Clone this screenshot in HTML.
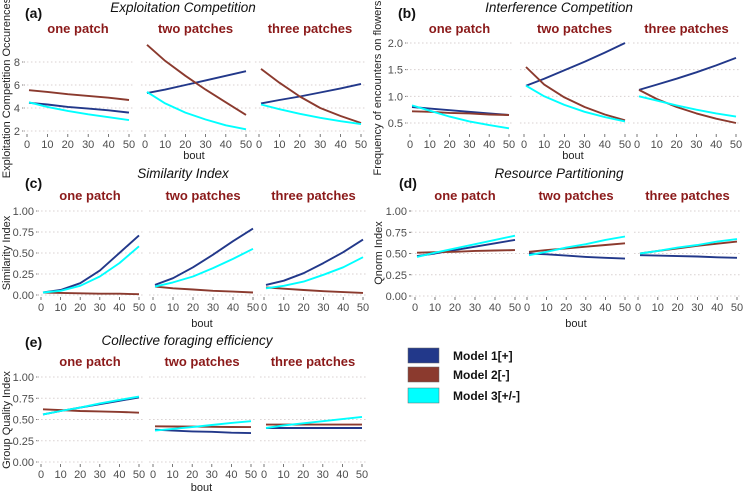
<!DOCTYPE html>
<html><head><meta charset="utf-8">
<style>
html,body{margin:0;padding:0;background:#fff;}
svg{display:block;font-family:"Liberation Sans",sans-serif;}
</style></head>
<body>
<svg id="chart" width="743" height="493" viewBox="0 0 743 493" xmlns="http://www.w3.org/2000/svg"></svg>
<script>
const bouts = [1,10,20,30,40,50];
const facetNames = ["one patch","two patches","three patches"];
const modelNames = ["Model 1[+]","Model 2[-]","Model 3[+/-]"];
const modelColors = ["#22388a","#8b3a2e","#00ffff"];
const xTicks = [0,10,20,30,40,50];

// (a) exploitation competition
const aM1 = [[4.45,4.3,4.1,3.95,3.8,3.6],[5.3,5.6,6.0,6.4,6.8,7.2],[4.4,4.7,5.0,5.35,5.7,6.1]];
const aM2 = [[5.55,5.4,5.2,5.05,4.9,4.7],[9.5,8.1,6.8,5.6,4.5,3.4],[7.4,6.2,5.0,4.0,3.3,2.7]];
const aM3 = [[4.5,4.1,3.75,3.45,3.2,2.95],[5.4,4.4,3.6,3.0,2.5,2.15],[4.3,3.9,3.5,3.15,2.85,2.6]];
const aTicks = [2,4,6,8];
// (b) interference competition
const bM1 = [[0.8,0.77,0.74,0.71,0.68,0.65],[1.2,1.33,1.49,1.65,1.82,2.0],[1.12,1.22,1.33,1.45,1.58,1.72]];
const bM2 = [[0.72,0.71,0.69,0.68,0.66,0.65],[1.55,1.22,0.98,0.8,0.66,0.55],[1.12,0.95,0.8,0.68,0.58,0.5]];
const bM3 = [[0.83,0.73,0.62,0.53,0.46,0.4],[1.2,1.0,0.84,0.71,0.61,0.53],[1.0,0.92,0.83,0.75,0.68,0.62]];
const bTicks = [0.5,1.0,1.5,2.0];
// (c) similarity index
const cM1 = [[0.03,0.06,0.14,0.29,0.5,0.71],[0.12,0.2,0.33,0.48,0.64,0.79],[0.12,0.17,0.26,0.38,0.51,0.66]];
const cM2 = [[0.03,0.025,0.02,0.015,0.015,0.01],[0.1,0.08,0.065,0.05,0.04,0.03],[0.09,0.075,0.06,0.045,0.035,0.025]];
const cM3 = [[0.03,0.05,0.11,0.22,0.38,0.58],[0.1,0.15,0.22,0.32,0.43,0.55],[0.08,0.11,0.16,0.24,0.33,0.45]];
const unitTicks = [0,0.25,0.5,0.75,1.0];
// (d) resource partitioning
const dM1 = [[0.47,0.5,0.54,0.58,0.62,0.66],[0.5,0.49,0.475,0.46,0.45,0.44],[0.48,0.475,0.47,0.465,0.455,0.45]];
const dM2 = [[0.51,0.515,0.52,0.53,0.535,0.54],[0.52,0.54,0.56,0.58,0.6,0.62],[0.5,0.53,0.56,0.59,0.615,0.64]];
const dM3 = [[0.46,0.51,0.56,0.61,0.66,0.71],[0.48,0.52,0.57,0.61,0.66,0.7],[0.5,0.53,0.57,0.6,0.64,0.67]];
// (e) collective foraging efficiency
const eM1 = [[0.56,0.6,0.64,0.68,0.72,0.76],[0.38,0.37,0.36,0.355,0.345,0.34],[0.4,0.4,0.4,0.4,0.4,0.4]];
const eM2 = [[0.62,0.61,0.6,0.595,0.59,0.58],[0.42,0.418,0.416,0.414,0.412,0.41],[0.44,0.44,0.44,0.44,0.44,0.44]];
const eM3 = [[0.56,0.6,0.64,0.69,0.73,0.77],[0.37,0.39,0.41,0.435,0.46,0.48],[0.4,0.43,0.455,0.48,0.505,0.53]];

const svg = document.getElementById('chart');
const NS = "http://www.w3.org/2000/svg";
function el(tag, attrs, parent){
  const e = document.createElementNS(NS, tag);
  for (const k in attrs) e.setAttribute(k, attrs[k]);
  (parent||svg).appendChild(e);
  return e;
}
function txt(s, attrs, parent){ const t = el('text', attrs, parent); t.textContent = s; return t; }

const panels = [
  {key:'a', label:'(a)', title:'Exploitation Competition', ytitle:'Exploitation Competition Occurences', series:[aM1,aM2,aM3], ticks:aTicks, tickFmt:v=>String(v),
   ymin:2, ymax:8, py0:131, py1:62, fx0:[27,145,259], fx1:[129,246,361], labX:25, labY:18, titleX:183, titleY:12, stripY:33, ytX:10, ytY:88, tickLblX:20, tickY:148, boutY:159},
  {key:'b', label:'(b)', title:'Interference Competition', ytitle:'Frequency of encounters on flowers', series:[bM1,bM2,bM3], ticks:bTicks, tickFmt:v=>v.toFixed(1),
   ymin:0.5, ymax:2.0, py0:123, py1:43, fx0:[410,524,637], fx1:[509,625,736], labX:398, labY:18, titleX:559, titleY:12, stripY:33, ytX:381, ytY:88, tickLblX:403, tickY:148, boutY:159},
  {key:'c', label:'(c)', title:'Similarity Index', ytitle:'Similarity Index', series:[cM1,cM2,cM3], ticks:unitTicks, tickFmt:v=>v.toFixed(2),
   ymin:0, ymax:1, py0:295, py1:211, fx0:[41,153,264], fx1:[139,253,363], labX:25, labY:188, titleX:183, titleY:178, stripY:200, ytX:10, ytY:253, tickLblX:34, tickY:311, boutY:327},
  {key:'d', label:'(d)', title:'Resource Partitioning', ytitle:'Qnorm Index', series:[dM1,dM2,dM3], ticks:unitTicks, tickFmt:v=>v.toFixed(2),
   ymin:0, ymax:1, py0:296, py1:211, fx0:[415,527,638], fx1:[515,625,737], labX:399, labY:188, titleX:559, titleY:178, stripY:200, ytX:382, ytY:253, tickLblX:407, tickY:311, boutY:327},
  {key:'e', label:'(e)', title:'Collective foraging efficiency', ytitle:'Group Quality Index', series:[eM1,eM2,eM3], ticks:unitTicks, tickFmt:v=>v.toFixed(2),
   ymin:0, ymax:1, py0:462, py1:377, fx0:[41,153,264], fx1:[139,251,362], labX:25, labY:347, titleX:187, titleY:345, stripY:366, ytX:10, ytY:420, tickLblX:34, tickY:478, boutY:491}
];

panels.forEach(p => {
  const g = el('g', {});
  
  
  const yS = v => p.py0 + (v - p.ymin) / (p.ymax - p.ymin) * (p.py1 - p.py0);

  const lab = txt(p.label, {x:p.labX, y:p.labY, 'font-size':14, 'font-weight':'bold', fill:'#111'}, g);
  
  
  const ti = txt(p.title, {x:p.titleX, y:p.titleY, 'font-size':13.5, 'font-style':'italic', 'text-anchor':'middle', fill:'#111'}, g);
  
  
  const yt = txt(p.ytitle, {x:p.ytX, y:p.ytY, 'font-size':11, 'text-anchor':'middle', fill:'#222', transform:'rotate(-90 '+p.ytX+' '+p.ytY+')'}, g);
  
  

  p.ticks.forEach(v => {
    const y = yS(v);
    const tl = txt(p.tickFmt(v), {x:p.tickLblX, y:y+4, 'font-size':11, 'text-anchor':'end', fill:'#4d4d4d'}, g);
    
    
    el('line', {x1:p.tickLblX+2, x2:p.tickLblX+5, y1:y, y2:y, stroke:'#555', 'stroke-width':0.8}, g);
  });

  const midX = (p.fx0[0] + p.fx1[2]) / 2;
  const bt = txt('bout', {x:midX, y:p.boutY, 'font-size':11, 'text-anchor':'middle', fill:'#222'}, g);
  
  

  for (let f = 0; f < 3; f++) {
    const xS = v => p.fx0[f] + v / 50 * (p.fx1[f] - p.fx0[f]);
    const fg = el('g', {}, g);
    
    
    const st = txt(facetNames[f], {x:(xS(0)+xS(50))/2, y:p.stripY, 'font-size':13, 'font-weight':'bold', 'text-anchor':'middle', fill:'#8b1a1a'}, fg);
    
    
    const gx0 = xS(-2), gx1 = xS(52.5);
    p.ticks.forEach(v => {
      const gl = el('line', {x1:gx0, x2:gx1, y1:yS(v), y2:yS(v), stroke:'#d8d0d0', 'stroke-width':1, 'stroke-dasharray':'1.5 2.5'}, fg);
      
      
    });
    xTicks.forEach(v => {
      el('line', {x1:xS(v), x2:xS(v), y1:p.tickY-14, y2:p.tickY-11, stroke:'#555', 'stroke-width':0.8}, fg);
      const xl = txt(String(v), {x:xS(v), y:p.tickY, 'font-size':11, 'text-anchor':'middle', fill:'#4d4d4d'}, fg);
      
      
    });
    p.series.forEach((s, m) => {
      const pts = bouts.map((b, i) => xS(b).toFixed(1) + ',' + yS(s[f][i]).toFixed(1)).join(' ');
      const ln = el('polyline', {points:pts, fill:'none', stroke:modelColors[m], 'stroke-width':1.9, 'stroke-linejoin':'round'}, fg);
      
      
    });
  }
});

const lg = el('g', {});


const legY = [348, 367, 388];
modelNames.forEach((n, i) => {
  const r = el('rect', {x:408, y:legY[i], width:31, height:15, fill:modelColors[i], stroke:'#666', 'stroke-width':0.5}, lg);
  
  
  const t = txt(n, {x:453, y:legY[i]+12, 'font-size':12, 'font-weight':'bold', fill:'#111'}, lg);
  
  
});
</script>
</body></html>
